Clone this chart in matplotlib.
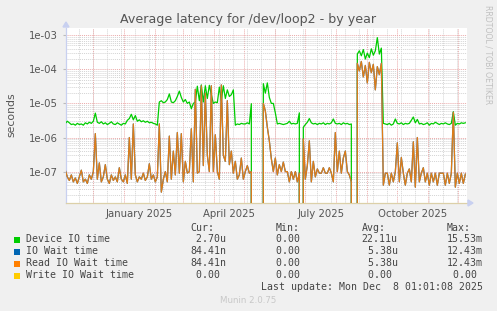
import matplotlib
matplotlib.use("Agg")
import matplotlib.pyplot as plt
import matplotlib.dates as mdates
from matplotlib.patches import Rectangle
from matplotlib.ticker import LogLocator, FixedLocator, FuncFormatter, NullFormatter
import numpy as np
import pandas as pd
from datetime import datetime

# ---------------- data ----------------
dates = pd.date_range("2024-11-03", periods=201, freq="2D")

# Device IO time (units of 1e-6 s)
device_io_us = [
    2.6, 3.0, 2.7, 2.4, 2.5, 2.3, 2.6, 2.4, 2.5, 2.3, 2.7, 2.5, 2.8, 2.6, 3.0, 5.2, 2.8, 2.6, 2.9, 2.5,
    2.7, 2.4, 2.6, 2.9, 2.5, 2.4, 2.7, 2.5, 2.3, 2.6, 2.5, 3.2, 3.6, 4.8, 3.3, 4.4, 3.0, 3.3, 2.9, 3.1,
    2.8, 3.0, 2.7, 2.8, 2.6, 2.5, 2.3, 11, 12, 10.5, 11, 13, 19, 11, 10.5, 12, 16, 23, 15, 11,
    13, 10, 11, 7, 10, 11, 32, 12, 35, 11, 33, 14, 34, 18, 10, 11, 10.5, 30, 12, 33,
    14, 25, 16, 18, 25, 2.3, 2.5, 2.4, 2.6, 2.5, 2.5, 2.7, 2.5, 9.8, 0, 0, 0, 0, 0, 38,
    20, 40, 15, 10, 10, 5.3, 2.5, 2.6, 2.5, 2.4, 2.5, 2.6, 3.0, 2.5, 2.6, 2.5, 2.6, 5.3, 0, 2.0,
    2.4, 2.8, 3.6, 2.7, 2.5, 2.6, 2.4, 2.6, 2.5, 2.7, 2.4, 2.6, 2.5, 2.7, 3.5, 2.6, 2.5, 2.6, 2.4, 2.7,
    2.5, 2.6, 2.4, 2.5, 0, 0, 280, 350, 250, 380, 200, 300, 220, 400, 260, 350, 850, 280, 420, 2.6,
    2.5, 2.4, 2.6, 2.3, 2.5, 3.5, 2.6, 2.5, 2.7, 2.4, 2.6, 2.5, 2.6, 3.2, 4.0, 2.7, 3.4, 2.5, 2.6, 2.4,
    2.5, 2.7, 2.3, 2.6, 2.5, 2.8, 2.6, 2.4, 2.6, 2.5, 2.7, 2.5, 2.4, 2.6, 5.7, 2.3, 2.6, 2.5, 2.7, 2.6,
    2.7,
]

# Read IO wait time (units of 1e-7 s); IO wait time is identical
read_io_wait_e7 = [
    1.1, 0.7, 0.55, 0.8, 0.5, 0.65, 0.45, 0.7, 1.1, 0.5, 0.6, 0.45, 0.8, 0.6, 1.0, 13, 0.6, 1.8, 0.5, 0.7,
    1.6, 0.6, 0.45, 0.8, 0.55, 0.7, 0.5, 1.3, 0.6, 0.5, 0.8, 0.45, 10, 0.6, 25, 0.8, 0.5, 0.7, 0.6, 0.9,
    0.55, 0.7, 1.7, 0.6, 0.8, 0.5, 0.7, 25, 0.25, 0.6, 1.0, 0.5, 11, 0.6, 4, 0.8, 14, 0.9, 13, 0.5,
    2, 0.9, 1.0, 18, 0.5, 260, 0.9, 1.0, 330, 1.5, 200, 3, 1.0, 330, 1.0, 12, 1.0, 0.6, 350, 3,
    2, 120, 1.6, 4, 0.9, 2, 0.6, 0.8, 2.5, 0.6, 1.0, 1.5, 0.9, 1.0, 0, 0, 0, 0, 0, 100,
    60, 20, 8, 2.4, 1.0, 2.5, 0.8, 1.6, 1.0, 1.9, 1.0, 1.0, 0.5, 1.0, 0.6, 1.0, 0.5, 0.9, 0, 9,
    0.6, 1.5, 8, 0.5, 2, 0.7, 1.2, 0.9, 0.9, 1.3, 0.9, 0.9, 1.3, 0.9, 0.5, 14, 1.0, 4, 0.9, 2.5,
    4, 1.0, 0.8, 0.5, 0, 0, 1500, 900, 1700, 600, 1300, 400, 1600, 800, 1400, 250, 1200, 700, 1500, 0.4,
    0.9, 0.9, 0.4, 0.9, 0.5, 1.0, 7, 0.5, 2.6, 0.9, 0.4, 0.9, 1.2, 0.5, 7.5, 0.35, 10, 0.5, 0.9, 1.3,
    0.5, 0.9, 0.4, 0.9, 0.5, 0.9, 0.4, 0.9, 0.9, 0.9, 0.4, 0.9, 0.45, 0.9, 55, 0.35, 0.9, 0.45, 0.9, 0.45,
    0.84,
]
write_io_wait = [0.0] * 201

series_names = ["Device IO time", "IO Wait time", "Read IO Wait time", "Write IO Wait time"]
series_colors = ["#00CC00", "#0066B3", "#FF8000", "#FFCC00"]
cur_vals = [" 2.70u", "84.41n", "84.41n", " 0.00 "]
min_vals = [" 0.00 ", " 0.00 ", " 0.00 ", " 0.00 "]
avg_vals = ["22.11u", " 5.38u", " 5.38u", " 0.00 "]
max_vals = ["15.53m", "12.43m", "12.43m", " 0.00 "]
month_labels = ["January 2025", "April 2025", "July 2025", "October 2025"]
label_dates = [datetime(2025, 1, 16), datetime(2025, 4, 16), datetime(2025, 7, 17), datetime(2025, 10, 16)]

device = np.array(device_io_us) * 1e-6
readw = np.array(read_io_wait_e7) * 1e-7
iow = readw.copy()
writew = np.array(write_io_wait)

# ---------------- figure ----------------
W, H = 497, 311
fig = plt.figure(figsize=(W / 100, H / 100), dpi=100, facecolor="#F0F0F0")

def fx(x):
    return x / W

def fy(y):
    return 1 - y / H

L, R, T, B = 66, 467, 28, 203
ax = fig.add_axes([fx(L), fy(B), (R - L) / W, (B - T) / H], facecolor="white")
ax.set_yscale("log")
ax.set_ylim(1.2e-8, 1.63e-3)
x0 = datetime(2024, 11, 3, 16)
x1 = datetime(2025, 12, 9, 16)
ax.set_xlim(x0, x1)

# grid: vertical
for d in pd.date_range("2024-11-03", "2025-12-09", freq="14D"):
    ax.axvline(d, color="#d4d4d4", lw=0.7, ls=(0, (1, 1)), zorder=0)
for d in pd.date_range("2024-12-01", "2025-12-01", freq="MS"):
    ax.axvline(d, color="#ebaaaa", lw=0.7, ls=(0, (1, 1)), zorder=0.5)

# grid: horizontal
ax.yaxis.set_major_locator(LogLocator(base=10, numticks=20))
ax.yaxis.set_minor_locator(LogLocator(base=10, subs=np.arange(2, 10), numticks=20))
ax.yaxis.set_major_formatter(FuncFormatter(lambda v, p: f"{v:.0e}"))
ax.yaxis.set_minor_formatter(NullFormatter())
ax.grid(True, which="minor", axis="y", color="#d4d4d4", lw=0.7, ls=(0, (1, 1)), zorder=0)
ax.grid(True, which="major", axis="y", color="#ebaaaa", lw=0.7, ls=(0, (1, 1)), zorder=0.5)
ax.set_axisbelow(True)

# series (zero values fall off the log axis, as in the original)
ax.plot(dates, device, color=series_colors[0], lw=0.9, zorder=3)
ax.plot(dates, iow, color=series_colors[1], lw=0.9, zorder=3)
ax.plot(dates, readw, color=series_colors[2], lw=0.9, alpha=0.88, zorder=4)
ax.plot(dates, writew, color=series_colors[3], lw=0.9, zorder=2)

# ticks
ax.xaxis.set_major_locator(FixedLocator(mdates.date2num(label_dates)))
ax.set_xticklabels(month_labels)
ax.tick_params(axis="x", which="both", length=0, labelsize=7.3, labelcolor="#555555", pad=4)
ax.tick_params(axis="y", which="major", length=2, color="#bbbbbb", labelsize=7.3, labelcolor="#555555", pad=4)
ax.tick_params(axis="y", which="minor", length=0)

for s in ["top", "right"]:
    ax.spines[s].set_visible(False)
ax.spines["left"].set_color("#c8d0f0")
ax.spines["bottom"].set_color("#dcd0a8")
ax.spines["left"].set_linewidth(0.9)
ax.spines["bottom"].set_linewidth(0.9)

# axis arrows
fig.patches.append(plt.Polygon([[fx(63), fy(27)], [fx(69), fy(27)], [fx(66), fy(22)]],
                               closed=True, color="#c8d0f0", transform=fig.transFigure))
fig.patches.append(plt.Polygon([[fx(468), fy(200)], [fx(468), fy(206)], [fx(473), fy(203)]],
                               closed=True, color="#c8d0f0", transform=fig.transFigure))

# title & labels
fig.text(fx(248.5), fy(19.5), "Average latency for /dev/loop2 - by year", ha="center", va="center",
         fontsize=9.1, color="#555555", family="DejaVu Sans")
fig.text(fx(11), fy(115), "seconds", rotation=90, ha="center", va="center", fontsize=7.8, color="#555555")
fig.text(fx(488), fy(5), "RRDTOOL / TOBI OETIKER", rotation=270, ha="center", va="top", fontsize=5.6,
         color="#c0c0c0")

# legend
mono = "DejaVu Sans Mono"
fs = 7.1
tc = "#444444"
head_y = 228
for txt, x in zip(["Cur:", "Min:", "Avg:", "Max:"], [190, 275.8, 361.7, 446.7]):
    fig.text(fx(x), fy(head_y), txt, ha="left", va="center", family=mono, fontsize=fs, color=tc)
row_y = [239.5, 251.5, 263.5, 275.5]
for i, name in enumerate(series_names):
    y = row_y[i]
    fig.patches.append(Rectangle((fx(14), fy(y + 3)), 6 / W, 6 / H, transform=fig.transFigure,
                                 facecolor=series_colors[i], edgecolor="none"))
    fig.text(fx(26), fy(y), name, ha="left", va="center", family=mono, fontsize=fs, color=tc)
    for vals, x in zip([cur_vals, min_vals, avg_vals, max_vals], [190, 269.9, 361.7, 446.7]):
        fig.text(fx(x), fy(y), vals[i], ha="left", va="center", family=mono, fontsize=fs, color=tc)
fig.text(fx(482.7), fy(287), "Last update: Mon Dec  8 01:01:08 2025", ha="right", va="center",
         family=mono, fontsize=fs, color=tc)
fig.text(fx(248), fy(300.5), "Munin 2.0.75", ha="center", va="center", fontsize=6.2, color="#c8c8c8")

fig.savefig("out.png", dpi=100, facecolor=fig.get_facecolor())
